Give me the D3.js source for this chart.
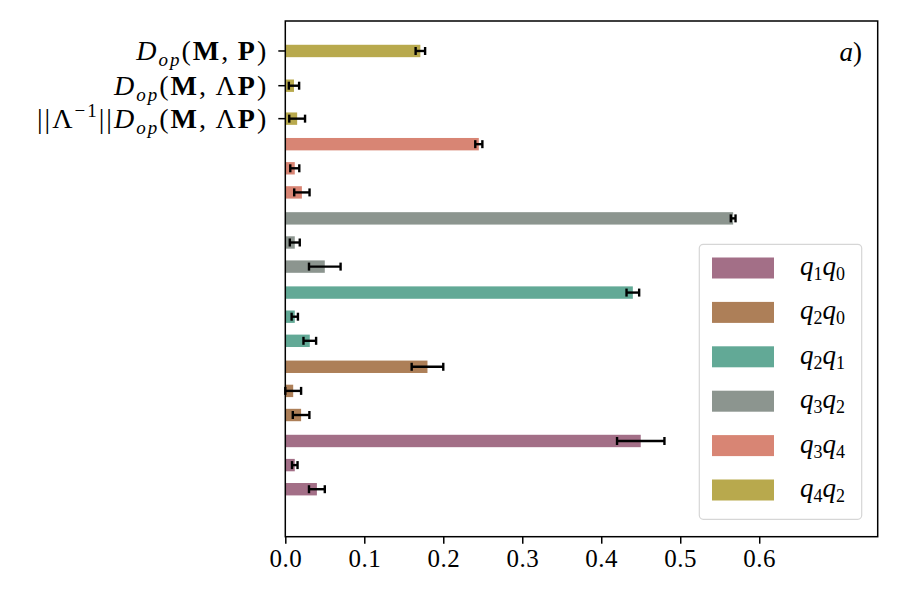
<!DOCTYPE html>
<html>
<head>
<meta charset="utf-8">
<script src="https://cdn.jsdelivr.net/npm/d3@7"></script>
<style>
  body { margin: 0; background: #fff; }
  text { font-family: "Liberation Serif", "DejaVu Serif", serif; fill: #000; }
</style>
</head>
<body>
<svg id="chart" width="900" height="600"></svg>
<script>
// pairs, bottom group first
const pairs = [["1", "0"], ["2", "0"], ["2", "1"], ["3", "2"], ["3", "4"], ["4", "2"]]
const colors = ["#a36f87", "#ad7f58", "#62a996", "#8c958f", "#d88574", "#b8a94d"]

// D_op(M,P)
const distP = [0.45, 0.18, 0.44, 0.567, 0.245, 0.171]
const errP = [0.03, 0.02, 0.008, 0.003, 0.0045, 0.006]
// D_op(M, Lambda P)
const distLP = [0.012, 0.01, 0.012, 0.012, 0.012, 0.011]
const errLP = [0.0035, 0.01, 0.004, 0.0063, 0.0057, 0.0065]
// ||Lambda^-1|| D_op(M, Lambda P)
const distNorm = [0.04, 0.02, 0.031, 0.05, 0.021, 0.015]
const errNorm = [0.01, 0.0105, 0.008, 0.02, 0.0097, 0.01]

const xTicks = [0, 0.1, 0.2, 0.3, 0.4, 0.5, 0.6]

let svg = d3.select("#chart")
let plotLeft = 285.3, plotRight = 877.7, plotTop = 21, plotBottom = 536.7

let x = d3.scaleLinear().domain([0, 0.75]).range([plotLeft, plotRight])
// slot units: one group per unit, bottom group big bar at 0
let y = d3.scaleLinear().domain([-1.29, 5.66]).range([plotBottom, plotTop])

let inGroup = [0, -0.325, -0.65]
let topRow = [5.256, 4.788, 4.344]  // the labelled (top) group sits a bit wider apart
function slot(g, m) {
  return g === pairs.length - 1 ? topRow[m] : g + inGroup[m]
}

let bars = []
let series = [[distP, errP], [distLP, errLP], [distNorm, errNorm]]
pairs.forEach(function (p, g) {
  series.forEach(function (s, m) {
    bars.push({ g: g, m: m, v: s[0][g], e: s[1][g] })
  })
})

let barH = 12.4

svg.append("g").selectAll("rect")
  .data(bars)
  .enter().append("rect")
  .attr("x", x(0))
  .attr("y", d => y(slot(d.g, d.m)) - barH / 2)
  .attr("width", d => x(d.v) - x(0))
  .attr("height", barH)
  .attr("fill", d => colors[d.g])

let err = svg.append("g").attr("stroke", "#000").attr("stroke-width", 2.4)
bars.forEach(function (d) {
  let cy = y(slot(d.g, d.m))
  err.append("line")
    .attr("x1", x(d.v - d.e)).attr("x2", x(d.v + d.e))
    .attr("y1", cy).attr("y2", cy)
  ;[d.v - d.e, d.v + d.e].forEach(function (v) {
    err.append("line")
      .attr("x1", x(v)).attr("x2", x(v))
      .attr("y1", cy - 4).attr("y2", cy + 4)
  })
})

// frame
svg.append("rect")
  .attr("x", plotLeft).attr("y", plotTop)
  .attr("width", plotRight - plotLeft).attr("height", plotBottom - plotTop)
  .attr("fill", "none").attr("stroke", "#000").attr("stroke-width", 1.5)

// x axis
let xAxis = svg.append("g")
  .attr("transform", `translate(0,${plotBottom})`)
  .call(d3.axisBottom(x).tickValues(xTicks).tickFormat(d3.format(".1f")).tickSize(7).tickPadding(6))
xAxis.select(".domain").remove()
xAxis.selectAll("line").attr("stroke-width", 1.5)
xAxis.selectAll("text").attr("font-size", 25).attr("letter-spacing", 0.5)
  .style("font-family", '"Liberation Serif", serif')

// y ticks and labels
let yt = svg.append("g")
topRow.forEach(function (p) {
  yt.append("line")
    .attr("x1", plotLeft - 7).attr("x2", plotLeft)
    .attr("y1", y(p)).attr("y2", y(p))
    .attr("stroke", "#000").attr("stroke-width", 1.5)
})

function dLabel(t, lambda) {
  t.append("tspan").attr("font-style", "italic").text("D")
  t.append("tspan").attr("font-style", "italic").attr("font-size", 19).attr("dy", 6).text("op")
  t.append("tspan").attr("dy", -6).text("(")
  t.append("tspan").attr("font-weight", "bold").text("M")
  t.append("tspan").text(",\u2009" + (lambda ? "Λ" : ""))
  t.append("tspan").attr("font-weight", "bold").text("P")
  t.append("tspan").text(")")
}

let labelX = plotLeft - 17
function yLabel(p) {
  return yt.append("text").attr("x", labelX).attr("y", y(p) + 9)
    .attr("text-anchor", "end").attr("font-size", 28).attr("letter-spacing", 2)
}
dLabel(yLabel(topRow[0]), false)
dLabel(yLabel(topRow[1]), true)
let l3 = yLabel(topRow[2])
l3.append("tspan").text("||Λ")
l3.append("tspan").attr("font-size", 19).attr("dy", -11).text("−1")
l3.append("tspan").attr("dy", 11).text("||")
dLabel(l3, true)

// panel tag
svg.append("text")
  .attr("x", 862).attr("y", 61)
  .attr("text-anchor", "end").attr("font-size", 27)
  .call(t => {
    t.append("tspan").attr("font-style", "italic").text("a")
    t.append("tspan").text(")")
  })

// legend
let lg = svg.append("g")
lg.append("rect")
  .attr("x", 699.3).attr("y", 244.3)
  .attr("width", 162.4).attr("height", 275)
  .attr("rx", 4).attr("fill", "#fff").attr("fill-opacity", 0.8)
  .attr("stroke", "#d6d6d6").attr("stroke-width", 1.2)

pairs.forEach(function (p, i) {
  let cy = 268 + i * 44.4
  lg.append("rect")
    .attr("x", 712).attr("y", cy - 10.5)
    .attr("width", 62).attr("height", 21)
    .attr("fill", colors[i])
  let t = lg.append("text").attr("x", 800).attr("y", cy + 7).attr("font-size", 27)
  t.append("tspan").attr("font-style", "italic").text("q")
  t.append("tspan").attr("font-size", 18).attr("dy", 5).text(p[0])
  t.append("tspan").attr("font-style", "italic").attr("dy", -5).text("q")
  t.append("tspan").attr("font-size", 18).attr("dy", 5).text(p[1])
})
</script>
</body>
</html>
